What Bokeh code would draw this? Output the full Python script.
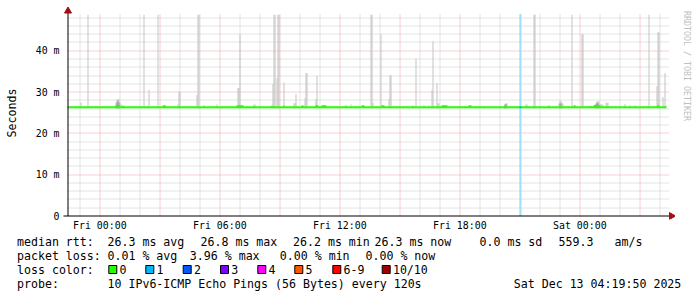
import math
from bokeh.plotting import figure
from bokeh.layouts import column, row
from bokeh.models import FixedTicker, Range1d
from bokeh.core.properties import value
from bokeh.embed import file_html
from bokeh.resources import INLINE

FONT = "DejaVu Sans Mono"

# ---- data (x = minutes relative to Fri 00:00, y = milliseconds) ----
T_START, T_END = -97, 1700      # Thu 22:23 .. Sat 04:20
Y_TOP = 48.9                    # top of the graph area

smoke_t = [-58, -37, 47, 50, 53, 56, 59, 62, 65, 68, 71, 131, 146, 173, 233, 236, 239,
           290, 293, 296, 311, 350, 365, 413, 416, 419, 461, 464, 518, 521, 524, 530, 533,
           536, 551, 581, 584, 587, 614, 617, 620, 647, 650, 752, 812, 815, 818, 842, 866,
           869, 872, 938, 947, 971, 986, 995, 998, 1010, 1013, 1016, 1079, 1094, 1214,
           1217, 1220, 1277, 1280, 1301, 1304, 1376, 1379, 1382, 1385, 1388, 1415, 1445,
           1448, 1469, 1472, 1481, 1484, 1487, 1490, 1493, 1496, 1499, 1502, 1505, 1508,
           1517, 1520, 1523, 1574, 1589, 1604, 1646, 1670, 1673, 1676, 1688, 1694]
smoke_top = [27.5, 48.7, 27.5, 28.3, 28.0, 28.3, 27.5, 27.0, 26.9, 26.8, 26.8, 48.7, 30.5,
             48.7, 27.0, 30.1, 30.1, 29.3, 48.7, 48.7, 26.9, 27.0, 26.7, 31.0, 31.0, 44.0,
             27.0, 27.0, 32.0, 48.7, 48.7, 33.4, 48.7, 48.7, 32.3, 27.3, 27.3, 29.5, 28.5,
             34.6, 34.6, 28.3, 33.9, 27.0, 48.7, 48.7, 27.4, 44.0, 28.3, 34.1, 34.1, 26.8,
             38.0, 26.8, 26.8, 30.5, 42.3, 32.2, 27.3, 27.3, 26.7, 26.7, 27.0, 27.3, 27.3,
             27.0, 27.0, 48.7, 48.7, 27.3, 27.9, 27.9, 27.5, 27.2, 48.7, 44.0, 44.0, 26.7,
             26.7, 26.9, 26.9, 27.0, 27.8, 27.8, 27.8, 27.0, 27.0, 27.0, 27.0, 27.4, 27.4,
             27.4, 27.1, 26.8, 26.8, 48.7, 31.4, 44.5, 44.5, 28.8, 34.6]

dark_t = [50, 53, 56, 1214, 1217, 1379, 1382, 1487, 1490, 1493]
dark_top = [27.6, 27.9, 27.4, 27.0, 27.1, 27.2, 27.3, 27.2, 27.4, 27.3]

median_base = 26.3
bump_start = [47, 189, 410, 515, 551, 605, 647, 665, 737, 785, 845, 1025, 1106, 1346, 1421, 1481, 1673]
bump_end = [59, 198, 431, 518, 554, 611, 656, 680, 740, 794, 854, 1043, 1115, 1349, 1427, 1502, 1679]
bump_val = [26.6, 26.55, 26.55, 26.55, 26.55, 26.55, 26.55, 26.55, 26.55, 26.55, 26.55,
            26.55, 26.55, 26.55, 26.55, 26.55, 26.55]

loss_start = [1259]
loss_end = [1265]
loss_idx = [1]

xtick_pos = [0, 360, 720, 1080, 1440]
xtick_labels = ["Fri 00:00", "Fri 06:00", "Fri 12:00", "Fri 18:00", "Sat 00:00"]
ytick_pos = [0, 10, 20, 30, 40]
ytick_labels = ["0", "10 m", "20 m", "30 m", "40 m"]

loss_names = ["0", "1", "2", "3", "4", "5", "6-9", "10/10"]
loss_colors = ["#26ff00", "#00b8ff", "#0059ff", "#7e00ff", "#ff00ff", "#ff5500", "#ff0000", "#a10000"]
loss_bg_colors = ["#a8f5a0", "#9fe0fa", "#a0c0ff", "#cfa0ff", "#ffa0ff", "#ffbfa0", "#ffa0a0", "#d9a0a0"]

row1 = ["median rtt:", "26.3 ms avg", "26.8 ms max", "26.2 ms min", "26.3 ms now", "0.0 ms sd", "559.3", "am/s"]
row2 = ["packet loss:", "0.01 % avg", "3.96 % max", "0.00 % min", "0.00 % now"]
row3 = ["loss color:"]
row4 = ["probe:", "10 IPv6-ICMP Echo Pings (56 Bytes) every 120s", "Sat Dec 13 04:19:50 2025"]
watermark = "RRDTOOL / TOBI OETIKER"
ylabel = "Seconds"

# ---- layout constants (pixels) ----
W, H = 697, 297
MAIN_W, MAIN_H = 675, 236
WM_W = W - MAIN_W
LEG_H = H - MAIN_H
AX_X, ZERO_Y = 67, 215.5          # pixel position of the axes
FL, FR, FT, FB = 60, 675, 6, 219  # frame edges
PX_PER_MIN = 1 / 3.0
PX_PER_MS = 4.131

x_lo = T_START - (AX_X - FL) / PX_PER_MIN
x_hi = T_START + (FR - AX_X) / PX_PER_MIN
y_lo = -(FB - ZERO_Y) / PX_PER_MS
y_hi = (ZERO_Y - FT) / PX_PER_MS
GRID_X_END = T_START + (669 - AX_X) / PX_PER_MIN
GRID_Y_START = (ZERO_Y - 216) / PX_PER_MS
AXIS_X = T_START + 0.5 / PX_PER_MIN        # crisp 1px axis line
XAXIS_START = T_START - 4 / PX_PER_MIN
XAXIS_END = T_START + (671 - AX_X) / PX_PER_MIN
ARROW_TOP_Y = (ZERO_Y - 10.5) / PX_PER_MS


def snap_x(m):
    # move a grid line to the centre of the pixel column it falls in
    px = AX_X + (m - T_START) * PX_PER_MIN
    return T_START + (math.floor(px) + 0.5 - AX_X) / PX_PER_MIN


def snap_y(v):
    py = ZERO_Y - v * PX_PER_MS
    return (ZERO_Y - (math.floor(py) + 0.5)) / PX_PER_MS


p = figure(width=MAIN_W, height=MAIN_H, output_backend="svg", toolbar_location=None,
           x_range=Range1d(x_lo, x_hi), y_range=Range1d(y_lo, y_hi),
           min_border_left=FL, min_border_right=MAIN_W - FR,
           min_border_top=FT, min_border_bottom=MAIN_H - FB)
p.outline_line_color = None
p.background_fill_color = "white"
p.border_fill_color = "white"
p.xgrid.visible = False
p.ygrid.visible = False

# ---- grid (dotted) ----
minor_y = [snap_y(v) for v in range(2, 49, 2) if v % 10 != 0]
major_y = [snap_y(v) for v in (10, 20, 30, 40)]
minor_x = [snap_x(t) for t in range(-60, T_END, 60) if t % 180 != 0]
major_x = [snap_x(t) for t in range(0, T_END, 180)]
p.segment(x0=[T_START] * len(minor_y), y0=minor_y, x1=[GRID_X_END] * len(minor_y), y1=minor_y,
          line_color="#c8c8c8", line_dash="1 1", line_width=1)
p.segment(x0=minor_x, y0=[GRID_Y_START] * len(minor_x), x1=minor_x, y1=[Y_TOP] * len(minor_x),
          line_color="#c8c8c8", line_dash="1 1", line_width=1)
p.segment(x0=[T_START] * len(major_y), y0=major_y, x1=[GRID_X_END] * len(major_y), y1=major_y,
          line_color="#f0a0a0", line_dash="1 1", line_width=1)
p.segment(x0=major_x, y0=[GRID_Y_START] * len(major_x), x1=major_x, y1=[Y_TOP] * len(major_x),
          line_color="#f0a0a0", line_dash="1 1", line_width=1)

# ---- axes: labels from Bokeh, lines + arrows drawn on the graph ----
p.xaxis.ticker = FixedTicker(ticks=xtick_pos)
p.xaxis.major_label_overrides = {k: v for k, v in zip(xtick_pos, xtick_labels)}
p.yaxis.ticker = FixedTicker(ticks=ytick_pos)
p.yaxis.major_label_overrides = {k: v for k, v in zip(ytick_pos, ytick_labels)}
for ax in (p.xaxis, p.yaxis):
    ax.axis_line_color = None
    ax.major_tick_line_color = None
    ax.minor_tick_line_color = None
    ax.major_tick_in = 0
    ax.major_tick_out = 0
    ax.major_label_text_font = FONT
    ax.major_label_text_font_size = "9.9px"
    ax.major_label_text_color = "black"
p.xaxis.major_label_standoff = 0
p.yaxis.major_label_standoff = 1
p.yaxis.axis_label = ylabel
p.yaxis.axis_label_text_font = FONT
p.yaxis.axis_label_text_font_size = "11.6px"
p.yaxis.axis_label_text_font_style = "normal"
p.yaxis.axis_label_text_color = "black"
p.yaxis.axis_label_standoff = 14

# ---- loss background band (opaque, lightened loss colour) ----
p.quad(left=loss_start, right=loss_end, bottom=0, top=Y_TOP,
       fill_color=[loss_bg_colors[i] for i in loss_idx], line_color=None)

# ---- smoke ----
p.quad(left=smoke_t, right=[t + 3 for t in smoke_t], bottom=26.1, top=smoke_top,
       fill_color="#c4c4c4", line_color=None)
p.quad(left=dark_t, right=[t + 3 for t in dark_t], bottom=26.1, top=dark_top,
       fill_color="#9a9a9a", line_color=None)

# ---- median line ----
p.segment(x0=[T_START], y0=[median_base], x1=[T_END], y1=[median_base],
          line_color=loss_colors[0], line_width=2)
p.segment(x0=bump_start, y0=bump_val, x1=bump_end, y1=bump_val,
          line_color=loss_colors[0], line_width=2)
p.segment(x0=loss_start, y0=[median_base] * len(loss_start), x1=loss_end,
          y1=[median_base] * len(loss_start),
          line_color=[loss_colors[i] for i in loss_idx], line_width=2)

# axis lines and arrow heads
p.segment(x0=[AXIS_X, XAXIS_START], y0=[0, 0], x1=[AXIS_X, XAXIS_END], y1=[ARROW_TOP_Y, 0],
          line_color="black", line_width=1)
arrow_col = "#a01010"
p.scatter(x=[AXIS_X], y=[ARROW_TOP_Y], marker="triangle", size=7,
          fill_color=arrow_col, line_color=arrow_col)
p.scatter(x=[XAXIS_END], y=[0], marker="triangle", size=7, angle=-math.pi / 2,
          fill_color=arrow_col, line_color=arrow_col)


def blank(fig):
    fig.outline_line_color = None
    fig.xgrid.visible = False
    fig.ygrid.visible = False
    fig.background_fill_color = "white"
    fig.border_fill_color = "white"


# watermark strip (pixel coordinates)
wm = figure(width=WM_W, height=MAIN_H, output_backend="svg", toolbar_location=None,
            x_range=Range1d(0, WM_W), y_range=Range1d(MAIN_H, 0), min_border=0,
            x_axis_location=None, y_axis_location=None)
blank(wm)
wm.text(x=[686 - MAIN_W], y=[5], text=[watermark], angle=-math.pi / 2,
        text_font=value(FONT), text_font_size="8.3px", text_color="#c0c0c0",
        text_align="left", text_baseline="middle")

# legend area (pixel coordinates)
leg = figure(width=W, height=LEG_H, output_backend="svg", toolbar_location=None,
             x_range=Range1d(0, W), y_range=Range1d(LEG_H, 0), min_border=0,
             x_axis_location=None, y_axis_location=None)
blank(leg)

row1_x = [16.5, 107, 200, 292.5, 374, 479, 558, 614]
row2_x = [16.5, 107, 189.3, 279.3, 365]
row3_x = [16.5]
row4_x = [16.5, 107, 513.3]
box_x = [108.3, 145.3, 182.7, 220, 257.3, 294.3, 332.3, 381.7]
tx, ty, tt = [], [], []
for xs, cy, items in ((row1_x, 241, row1), (row2_x, 255.5, row2), (row3_x, 269, row3),
                      (box_x, 269, loss_names), (row4_x, 283.3, row4)):
    off = 10.7 if items is loss_names else 0
    for x, s in zip(xs, items):
        tx.append(x + off)
        ty.append(cy - MAIN_H)
        tt.append(s)
leg.text(x=tx, y=ty, text=tt, text_font=value(FONT), text_font_size="11.6px",
         text_color="black", text_align="left", text_baseline="middle")
leg.quad(left=box_x, right=[b + 8 for b in box_x], top=265 - MAIN_H, bottom=273 - MAIN_H,
         fill_color=loss_colors, line_color="black", line_width=1)

layout = column(row(p, wm, spacing=0), leg, spacing=0)
open("out.html", "w").write(file_html(layout, INLINE))
